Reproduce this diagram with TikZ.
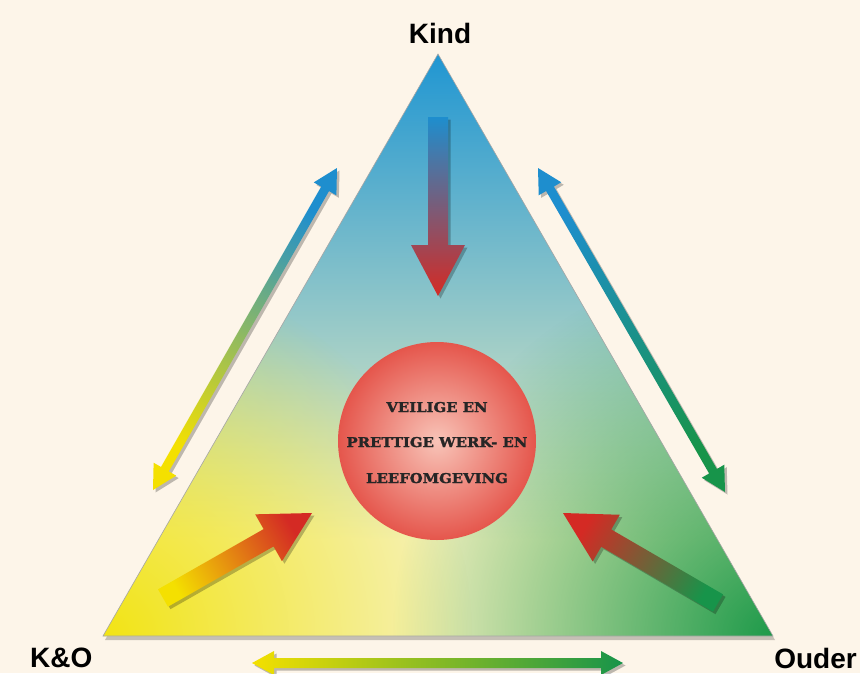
\documentclass[tikz,border=0pt]{standalone}
\usepackage{fontspec}
\setmainfont{Liberation Sans}
\newfontfamily\slabfont{DejaVu Serif}[UprightFont=* Bold, UprightFeatures={FakeBold=1.6}]
\usetikzlibrary{calc,fadings}
\definecolor{bgc}{HTML}{FDF5E9}
\definecolor{apexblue}{HTML}{2096D2}
\definecolor{midblue}{HTML}{B2DAE3}
\definecolor{palebot}{HTML}{F6F2C0}
\definecolor{cornyellow}{HTML}{F2E414}
\definecolor{corngreen}{HTML}{1E9A4A}
\definecolor{circin}{HTML}{F8C4B8}
\definecolor{circout}{HTML}{E5564C}
\definecolor{arblue}{HTML}{1E8ECE}
\definecolor{arred}{HTML}{D42A24}
\definecolor{arorange}{HTML}{EE8A14}
\definecolor{aryellow}{HTML}{F4E000}
\definecolor{argreen}{HTML}{17944A}
\definecolor{arlime}{HTML}{8CC63F}
\tikzfading[name=cornerfade, inner color=transparent!0, outer color=transparent!100]
\tikzset{
  lbl/.style={font=\bfseries\fontsize{28}{30}\selectfont, text=black, inner sep=0pt},
  ctext/.style={font=\slabfont\fontsize{13.5}{15}\selectfont, text=black!85, inner sep=0pt, anchor=base, xscale=1.1},
  arshadow/.style={fill=black, opacity=.25, transform canvas={shift={(2.5pt,-2.5pt)}}},
}
% single block arrow: #1 shade options, #2 tail, #3 tip, #4 shaft half width, #5 head half width, #6 head length
\newcommand\onearrow[6]{%
  \coordinate (hh) at ($(#3)!#6!(#2)$);
  \fill[arshadow] ($(#2)!#4!90:(#3)$) -- ($(hh)!#4!90:(#3)$) -- ($(hh)!#5!90:(#3)$) -- (#3) -- ($(hh)!#5!-90:(#3)$) -- ($(hh)!#4!-90:(#3)$) -- ($(#2)!#4!-90:(#3)$) -- cycle;
  \shade[#1] ($(#2)!#4!90:(#3)$) -- ($(hh)!#4!90:(#3)$) -- ($(hh)!#5!90:(#3)$) -- (#3) -- ($(hh)!#5!-90:(#3)$) -- ($(hh)!#4!-90:(#3)$) -- ($(#2)!#4!-90:(#3)$) -- cycle;
}
% double block arrow
\newcommand\twoarrow[6]{%
  \coordinate (ha) at ($(#2)!#6!(#3)$);
  \coordinate (hb) at ($(#3)!#6!(#2)$);
  \fill[arshadow] (#2) -- ($(ha)!#5!90:(#3)$) -- ($(ha)!#4!90:(#3)$) -- ($(hb)!#4!90:(#3)$) -- ($(hb)!#5!90:(#3)$) -- (#3) -- ($(hb)!#5!-90:(#3)$) -- ($(hb)!#4!-90:(#3)$) -- ($(ha)!#4!-90:(#3)$) -- ($(ha)!#5!-90:(#3)$) -- cycle;
  \shade[#1] (#2) -- ($(ha)!#5!90:(#3)$) -- ($(ha)!#4!90:(#3)$) -- ($(hb)!#4!90:(#3)$) -- ($(hb)!#5!90:(#3)$) -- (#3) -- ($(hb)!#5!-90:(#3)$) -- ($(hb)!#4!-90:(#3)$) -- ($(ha)!#4!-90:(#3)$) -- ($(ha)!#5!-90:(#3)$) -- cycle;
}
\begin{document}
\begin{tikzpicture}[x=1pt,y=-1pt]
\useasboundingbox (0,0) rectangle (860,673);
\fill[bgc] (0,0) rectangle (860,673);

% triangle corners
\coordinate (A) at (438,54);
\coordinate (L) at (103,636);
\coordinate (R) at (773,636);

% triangle shadow
\fill[black, opacity=.22, transform canvas={shift={(2pt,-4pt)}}] (A) -- (L) -- (R) -- cycle;

% triangle fill
\begin{scope}
  \clip (A) -- (L) -- (R) -- cycle;
  \fill[palebot] (103,520) rectangle (773,640);
  \shade[top color=apexblue, middle color=midblue, bottom color=palebot] (103,54) rectangle (773,540);
  \fill[cornyellow, path fading=cornerfade] (L) circle (370pt);
  \fill[corngreen, path fading=cornerfade] (R) circle (380pt);
\end{scope}
\draw[black!35, line width=.6pt] (A) -- (L) -- (R) -- cycle;

% centre circle
\coordinate (C) at (437,441);
\shade[inner color=circin, outer color=circout] (C) circle (99pt);
\node[ctext] (t1) at (437,412) {VEILIGE EN};
\node[ctext] (t2) at (437,447) {PRETTIGE WERK- EN};
\node[ctext] (t3) at (437,483) {LEEFOMGEVING};

% labels
\node[lbl, anchor=base] (kind) at (440,43) {Kind};
\node[lbl, anchor=base west] (ko) at (30,667) {K\&O};
\node[lbl, anchor=base east] (ouder) at (857,668) {Ouder};

% inward arrows
\coordinate (ktail) at (438,117);
\coordinate (ktip) at (438,296);
\onearrow{top color=arblue, bottom color=arred}{ktail}{ktip}{10pt}{27pt}{51pt}

\coordinate (ltail) at (163,598);
\coordinate (ltip) at (312,513);
\onearrow{top color=arred, middle color=arorange, bottom color=aryellow, shading angle=-60}{ltail}{ltip}{10pt}{27pt}{50pt}

\coordinate (rtail) at (718,603);
\coordinate (rtip) at (563,513);
\onearrow{top color=arred, bottom color=argreen, shading angle=60}{rtail}{rtip}{10pt}{27pt}{50pt}

% side double arrows
\coordinate (la) at (153,490);
\coordinate (lb) at (337,168);
\twoarrow{top color=arblue, middle color=arlime, bottom color=aryellow, shading angle=-30}{la}{lb}{4.5pt}{13pt}{24pt}

\coordinate (ra) at (725,492);
\coordinate (rb) at (538,168);
\twoarrow{top color=arblue, bottom color=argreen, shading angle=30}{ra}{rb}{4.5pt}{13pt}{24pt}

\coordinate (ba) at (252,663);
\coordinate (bb) at (623,663);
\twoarrow{left color=aryellow, right color=argreen}{ba}{bb}{5pt}{12pt}{22pt}
\end{tikzpicture}
\end{document}
